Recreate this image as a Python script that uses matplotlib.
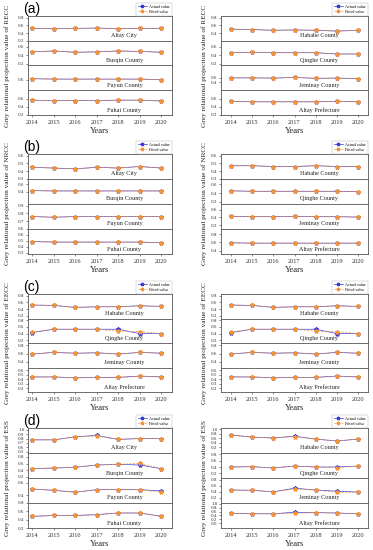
import matplotlib.pyplot as plt
from matplotlib.lines import Line2D

plt.rcParams['font.family'] = 'Liberation Serif'

W, H = 373, 550

years = [2014, 2015, 2016, 2017, 2018, 2019, 2020]

# (a) RECC
recc_left_regions = ["Altay City", "Burqin County", "Fuyun County", "Fuhai County"]
recc_left_actual = [
    [0.52, 0.51, 0.52, 0.53, 0.51, 0.52, 0.52],
    [0.48, 0.50, 0.47, 0.48, 0.50, 0.49, 0.47],
    [0.63, 0.62, 0.62, 0.62, 0.62, 0.62, 0.61],
    [0.56, 0.55, 0.55, 0.55, 0.56, 0.56, 0.54],
]
recc_left_fitted = [
    [0.52, 0.51, 0.52, 0.52, 0.51, 0.52, 0.52],
    [0.48, 0.50, 0.47, 0.48, 0.50, 0.49, 0.47],
    [0.63, 0.62, 0.62, 0.62, 0.62, 0.62, 0.61],
    [0.56, 0.55, 0.55, 0.55, 0.56, 0.56, 0.54],
]
recc_left_ylim = [(0.2, 0.84), (0.16, 0.74), (0.35, 0.95), (0.2, 0.8)]
recc_left_ticks = [[0.2, 0.4, 0.6, 0.8], [0.2, 0.4, 0.6], [0.6], [0.2, 0.4, 0.6]]

recc_right_regions = ["Habahe County", "Qinghe County", "Jeminay County", "Altay Prefecture"]
recc_right_actual = [
    [0.50, 0.49, 0.47, 0.48, 0.47, 0.45, 0.47],
    [0.46, 0.47, 0.46, 0.46, 0.46, 0.43, 0.43],
    [0.60, 0.60, 0.59, 0.62, 0.58, 0.59, 0.57],
    [0.53, 0.52, 0.52, 0.52, 0.52, 0.53, 0.52],
]
recc_right_fitted = [
    [0.50, 0.49, 0.47, 0.48, 0.47, 0.45, 0.47],
    [0.46, 0.47, 0.46, 0.46, 0.46, 0.43, 0.43],
    [0.60, 0.60, 0.59, 0.62, 0.58, 0.59, 0.57],
    [0.53, 0.52, 0.52, 0.52, 0.52, 0.53, 0.52],
]
recc_right_ylim = [(0.2, 0.84), (0.16, 0.74), (0.05, 1.15), (0.2, 0.8)]
recc_right_ticks = [[0.4, 0.6, 0.8], [0.2, 0.4, 0.6], [0.4, 0.6], [0.2, 0.4, 0.6]]

# (b) NRCC
nrcc_left_regions = ["Altay City", "Burqin County", "Fuyun County", "Fuhai County"]
nrcc_left_actual = [
    [0.45, 0.44, 0.43, 0.45, 0.44, 0.46, 0.44],
    [0.43, 0.42, 0.42, 0.42, 0.42, 0.42, 0.42],
    [0.76, 0.75, 0.76, 0.76, 0.76, 0.76, 0.76],
    [0.49, 0.48, 0.48, 0.48, 0.48, 0.48, 0.47],
]
nrcc_left_fitted = [
    [0.45, 0.44, 0.43, 0.45, 0.44, 0.46, 0.44],
    [0.43, 0.42, 0.42, 0.42, 0.42, 0.42, 0.42],
    [0.76, 0.75, 0.76, 0.76, 0.76, 0.76, 0.76],
    [0.49, 0.48, 0.48, 0.48, 0.48, 0.48, 0.47],
]
nrcc_left_ylim = [(0.3, 0.62), (0.06, 0.75), (0.6, 0.92), (0.28, 0.7)]
nrcc_left_ticks = [[0.3, 0.4, 0.5, 0.6], [0.4, 0.6], [0.6, 0.7, 0.8, 0.9], [0.3, 0.4, 0.5, 0.6]]

nrcc_right_regions = ["Habahe County", "Qinghe County", "Jeminay County", "Altay Prefecture"]
nrcc_right_actual = [
    [0.47, 0.47, 0.46, 0.46, 0.47, 0.46, 0.46],
    [0.45, 0.44, 0.44, 0.44, 0.44, 0.44, 0.43],
    [0.43, 0.42, 0.42, 0.43, 0.42, 0.42, 0.41],
    [0.59, 0.58, 0.58, 0.58, 0.58, 0.58, 0.58],
]
nrcc_right_fitted = [
    [0.47, 0.47, 0.46, 0.46, 0.47, 0.46, 0.46],
    [0.45, 0.44, 0.44, 0.44, 0.44, 0.44, 0.43],
    [0.43, 0.42, 0.42, 0.43, 0.42, 0.42, 0.41],
    [0.59, 0.58, 0.58, 0.58, 0.58, 0.58, 0.58],
]
nrcc_right_ylim = [(0.3, 0.62), (0.15, 0.72), (0.1, 0.75), (0.32, 0.92)]
nrcc_right_ticks = [[0.3, 0.4, 0.5, 0.6], [0.2, 0.4, 0.6], [0.2, 0.4, 0.6], [0.4, 0.6, 0.8]]

# (c) EECC (both sides show the same four regions)
eecc_regions = ["Habahe County", "Qinghe County", "Jeminay County", "Altay Prefecture"]
eecc_actual = [
    [0.52, 0.51, 0.45, 0.47, 0.47, 0.50, 0.48],
    [0.43, 0.53, 0.53, 0.53, 0.53, 0.40, 0.40],
    [0.59, 0.63, 0.61, 0.62, 0.59, 0.63, 0.61],
    [0.45, 0.45, 0.43, 0.44, 0.44, 0.47, 0.45],
]
eecc_fitted = [
    [0.52, 0.51, 0.45, 0.47, 0.47, 0.49, 0.48],
    [0.45, 0.53, 0.53, 0.53, 0.47, 0.46, 0.40],
    [0.59, 0.63, 0.61, 0.62, 0.59, 0.63, 0.61],
    [0.45, 0.45, 0.43, 0.44, 0.44, 0.46, 0.45],
]
eecc_ylim = [(0.12, 0.85), (0.12, 0.85), (0.26, 0.86), (0.115, 0.66)]
eecc_ticks = [[0.2, 0.4, 0.6, 0.8], [0.2, 0.4, 0.6, 0.8], [0.4, 0.6, 0.8], [0.2, 0.3, 0.4, 0.5, 0.6]]

# (d) ESS
ess_left_regions = ["Altay City", "Burqin County", "Fuyun County", "Fuhai County"]
ess_left_actual = [
    [0.77, 0.77, 0.84, 0.87, 0.78, 0.80, 0.80],
    [0.45, 0.47, 0.49, 0.56, 0.58, 0.56, 0.45],
    [0.50, 0.48, 0.45, 0.49, 0.49, 0.49, 0.47],
    [0.48, 0.50, 0.50, 0.52, 0.56, 0.56, 0.48],
]
ess_left_fitted = [
    [0.77, 0.77, 0.84, 0.855, 0.78, 0.80, 0.80],
    [0.45, 0.47, 0.49, 0.56, 0.58, 0.61, 0.45],
    [0.50, 0.48, 0.45, 0.49, 0.49, 0.49, 0.45],
    [0.48, 0.50, 0.50, 0.52, 0.56, 0.56, 0.48],
]
ess_left_ylim = [(0.47, 1.04), (0.17, 0.92), (0.28, 0.674), (0.2, 0.8)]
ess_left_ticks = [[0.5, 0.6, 0.7, 0.8, 0.9, 1.0], [0.2, 0.4, 0.6, 0.8], [0.4, 0.6], [0.2, 0.4, 0.6, 0.8]]

ess_right_regions = ["Habahe County", "Qinghe County", "Jeminay County", "Altay Prefecture"]
ess_right_actual = [
    [0.74, 0.65, 0.61, 0.69, 0.56, 0.48, 0.56],
    [0.40, 0.41, 0.37, 0.43, 0.40, 0.40, 0.43],
    [0.46, 0.45, 0.40, 0.52, 0.46, 0.42, 0.39],
    [0.51, 0.49, 0.49, 0.57, 0.55, 0.53, 0.49],
]
ess_right_fitted = [
    [0.74, 0.65, 0.61, 0.67, 0.56, 0.48, 0.56],
    [0.40, 0.41, 0.37, 0.43, 0.40, 0.38, 0.43],
    [0.46, 0.45, 0.40, 0.49, 0.46, 0.38, 0.39],
    [0.51, 0.49, 0.49, 0.51, 0.55, 0.53, 0.49],
]
ess_right_ylim = [(-0.05, 1.05), (0.055, 0.84), (0.024, 0.864), (-0.25, 1.05)]
ess_right_ticks = [[0.2, 0.4, 0.6, 0.8, 1.0], [0.2, 0.4, 0.6, 0.8], [0.2, 0.4, 0.6, 0.8],
                   [0.0, 0.2, 0.4, 0.6, 0.8, 1.0]]

ACTUAL_C = "#3a3ad8"
FITTED_C = "#f39237"
FRAME_C = "#555555"


def px_axes(fig, x0, top, x1, bottom):
    return fig.add_axes([x0 / W, 1 - bottom / H, (x1 - x0) / W, (bottom - top) / H])


def draw_panel(fig, box, xlim, regions, actual, fitted, ylims, ticks, ylabel, ylab_x, letter=None):
    x0, top, x1, bottom = box
    h = (bottom - top) / 4
    for i in range(4):
        ax = px_axes(fig, x0, top + i * h, x1, top + (i + 1) * h)
        ax.plot(years, actual[i], color=ACTUAL_C, lw=0.5, marker="*", ms=3, zorder=2)
        ax.plot(years, fitted[i], color=FITTED_C, lw=0.5, ls=(0, (3, 2)), marker="*", ms=3, zorder=3)
        ax.set_xlim(*xlim)
        ax.set_ylim(*ylims[i])
        ax.set_yticks(ticks[i])
        ax.set_yticklabels([f"{t:.1f}" for t in ticks[i]])
        ax.set_xticks(years)
        for sp in ax.spines.values():
            sp.set_color(FRAME_C)
            sp.set_linewidth(0.6)
        ax.tick_params(axis="both", labelsize=3.6, length=1.5, width=0.4, pad=1, colors="#333333")
        if i < 3:
            ax.tick_params(axis="x", labelbottom=False)
        else:
            ax.tick_params(axis="x", labelsize=4.6, pad=2)
        ax.text(0.67, 0.2, regions[i], transform=ax.transAxes, fontsize=4.4, ha="center", va="center",
                color="#222222")
        if i == 0:
            handles = [
                Line2D([], [], color=ACTUAL_C, lw=0.5, marker="*", ms=2.5),
                Line2D([], [], color=FITTED_C, lw=0.5, ls=(0, (3, 2)), marker="*", ms=2.5),
            ]
            leg = ax.legend(handles, ["Actual value", "Fitted value"], loc="lower right",
                            bbox_to_anchor=(1.0, 1.0), fontsize=3.0, frameon=True, fancybox=False,
                            handlelength=2.2, borderpad=0.4, labelspacing=0.3, handletextpad=0.6,
                            borderaxespad=0.1)
            leg.get_frame().set_linewidth(0.3)
            leg.get_frame().set_edgecolor("#999999")
    fig.text(ylab_x / W, 1 - ((top + bottom) / 2) / H, ylabel, rotation=90, fontsize=5.2,
             ha="center", va="center", color="#222222")
    fig.text(((x0 + x1) / 2) / W, 1 - (bottom + 16) / H, "Years", fontsize=6.2, ha="center",
             va="center", color="#222222")
    if letter:
        fig.text(23 / W, 1 - (top - 7) / H, letter, fontsize=10, ha="left", va="center",
                 family="Liberation Sans")


fig = plt.figure(figsize=(W / 100, H / 100), dpi=100)

LEFT_X = (28, 172)
RIGHT_X = (221, 368)
LEFT_XLIM = (2013.8, 2020.5)
RIGHT_XLIM = (2013.53, 2020.47)
rows = [(16, 115), (154, 254), (294, 392), (428, 528)]

draw_panel(fig, (LEFT_X[0], rows[0][0], LEFT_X[1], rows[0][1]), LEFT_XLIM, recc_left_regions,
           recc_left_actual, recc_left_fitted, recc_left_ylim, recc_left_ticks,
           "Grey relational projection value of RECC", 7, "(a)")
draw_panel(fig, (RIGHT_X[0], rows[0][0], RIGHT_X[1], rows[0][1]), RIGHT_XLIM, recc_right_regions,
           recc_right_actual, recc_right_fitted, recc_right_ylim, recc_right_ticks,
           "Grey relational projection value of RECC", 204)

draw_panel(fig, (LEFT_X[0], rows[1][0], LEFT_X[1], rows[1][1]), LEFT_XLIM, nrcc_left_regions,
           nrcc_left_actual, nrcc_left_fitted, nrcc_left_ylim, nrcc_left_ticks,
           "Grey relational projection value of NRCC", 7, "(b)")
draw_panel(fig, (RIGHT_X[0], rows[1][0], RIGHT_X[1], rows[1][1]), RIGHT_XLIM, nrcc_right_regions,
           nrcc_right_actual, nrcc_right_fitted, nrcc_right_ylim, nrcc_right_ticks,
           "Grey relational projection value of NRCC", 204)

draw_panel(fig, (LEFT_X[0], rows[2][0], LEFT_X[1], rows[2][1]), LEFT_XLIM, eecc_regions,
           eecc_actual, eecc_fitted, eecc_ylim, eecc_ticks,
           "Grey relational projection value of EECC", 7, "(c)")
draw_panel(fig, (RIGHT_X[0], rows[2][0], RIGHT_X[1], rows[2][1]), RIGHT_XLIM, eecc_regions,
           eecc_actual, eecc_fitted, eecc_ylim, eecc_ticks,
           "Grey relational projection value of EECC", 204)

draw_panel(fig, (LEFT_X[0], rows[3][0], LEFT_X[1], rows[3][1]), LEFT_XLIM, ess_left_regions,
           ess_left_actual, ess_left_fitted, ess_left_ylim, ess_left_ticks,
           "Grey relational projection value of ESS", 7, "(d)")
draw_panel(fig, (RIGHT_X[0], rows[3][0], RIGHT_X[1], rows[3][1]), RIGHT_XLIM, ess_right_regions,
           ess_right_actual, ess_right_fitted, ess_right_ylim, ess_right_ticks,
           "Grey relational projection value of ESS", 204)

fig.savefig("out.png", dpi=100)
